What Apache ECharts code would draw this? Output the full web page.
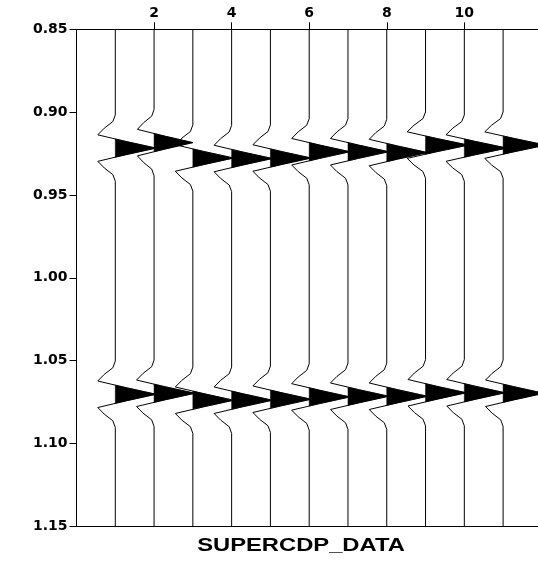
<!DOCTYPE html>
<html><head><meta charset="utf-8">
<script src="https://cdn.jsdelivr.net/npm/echarts@6/dist/echarts.min.js"></script>
<style>html,body{margin:0;padding:0;background:#fff}#c{width:538px;height:562px}</style>
</head><body><div id="c"></div>
<script>
// ---- data ----
const traceNumbers = [1, 2, 3, 4, 5, 6, 7, 8, 9, 10, 11];
const event1Times = [0.9217, 0.9184, 0.9277, 0.9280, 0.9277, 0.9239, 0.9239, 0.9244, 0.9199, 0.9217, 0.9199];
const event2Times = [1.0703, 1.0697, 1.0739, 1.0739, 1.0733, 1.0719, 1.0715, 1.0715, 1.0694, 1.0694, 1.0697];
const event1Amps = [1.05, 1.0, 1.05, 1.05, 1.05, 1.05, 1.05, 1.05, 1.1, 1.1, 1.1];
const event2Amps = [1.05, 1.05, 1.05, 1.05, 1.05, 1.05, 1.05, 1.05, 1.05, 1.05, 1.05];
const waveletOffsets = [-0.020, -0.016, -0.012, -0.008, -0.004, 0, 0.004, 0.008, 0.012, 0.016, 0.020];
const waveletValues = [0, -0.06, -0.27, -0.43, 0.26, 1.0, 0.26, -0.43, -0.27, -0.06, 0];
const xTickLabels = [2, 4, 6, 8, 10];
const yTickLabels = [0.85, 0.90, 0.95, 1.00, 1.05, 1.10, 1.15];
const timeMin = 0.85, timeMax = 1.15;
const xMin = 0, xMax = 11.9;
const axisTitle = 'SUPERCDP_DATA';

// ---- build ----
function eventPoints(base, amp, t0) {
  return waveletOffsets.map((o, i) => [base + amp * waveletValues[i], t0 + o]);
}
function positivePolys(base, amp, t0) {
  const polys = []; let cur = null;
  for (let i = 0; i < waveletValues.length; i++) {
    const v = waveletValues[i], t = t0 + waveletOffsets[i];
    if (v > 0) {
      if (!cur) {
        cur = [];
        if (i > 0) {
          const v0 = waveletValues[i - 1], tp = t0 + waveletOffsets[i - 1];
          cur.push([base, tp + (t - tp) * (v0 / (v0 - v))]);
        } else cur.push([base, t]);
      }
      cur.push([base + amp * v, t]);
    } else if (cur) {
      const v0 = waveletValues[i - 1], tp = t0 + waveletOffsets[i - 1];
      cur.push([base, tp + (t - tp) * (v0 / (v0 - v))]);
      polys.push(cur); cur = null;
    }
  }
  if (cur) { cur.push([base, cur[cur.length - 1][1]]); polys.push(cur); }
  return polys;
}

const lineSeries = traceNumbers.map((k, i) => ({
  type: 'line',
  xAxisIndex: 0,
  data: [[k, timeMin]]
    .concat(eventPoints(k, event1Amps[i], event1Times[i]))
    .concat(eventPoints(k, event2Amps[i], event2Times[i]))
    .concat([[k, timeMax]]),
  showSymbol: false,
  symbol: 'none',
  lineStyle: { color: '#000', width: 1 },
  silent: true,
  animation: false,
  z: 2
}));

const fillSeries = {
  type: 'custom',
  xAxisIndex: 0,
  data: traceNumbers.map((k, i) => [k, event1Times[i], i]),
  clip: true,
  animation: false,
  silent: true,
  z: 3,
  renderItem: function (params, api) {
    const i = api.value(2);
    const k = traceNumbers[i];
    const polys = positivePolys(k, event1Amps[i], event1Times[i])
      .concat(positivePolys(k, event2Amps[i], event2Times[i]));
    return {
      type: 'group',
      children: polys.map(p => ({
        type: 'polygon',
        shape: { points: p.map(pt => api.coord(pt)) },
        style: { fill: '#000', stroke: '#000', lineWidth: 0.5 }
      }))
    };
  }
};

const labelFont = { color: '#000', fontFamily: 'DejaVu Sans', fontWeight: 'bold', fontSize: 14 };

const chart = echarts.init(document.getElementById('c'), null, { renderer: 'canvas' });
chart.setOption({
  animation: false,
  backgroundColor: '#fff',
  grid: { left: 76.5, right: 0, top: 29.3, bottom: 35.7, containLabel: false },
  xAxis: [{
    type: 'value', position: 'top', min: xMin, max: xMax,
    axisLine: { show: true, lineStyle: { color: '#000', width: 1 } },
    axisTick: { show: true, inside: false, length: 7, customValues: xTickLabels, lineStyle: { color: '#000' } },
    axisLabel: Object.assign({ show: true, margin: 9, customValues: xTickLabels, formatter: v => String(v) }, labelFont),
    splitLine: { show: false }
  }, {
    type: 'value', position: 'bottom', min: xMin, max: xMax,
    axisLine: { show: true, onZero: false, lineStyle: { color: '#000', width: 1 } },
    axisTick: { show: false }, axisLabel: { show: false }, splitLine: { show: false }
  }],
  yAxis: {
    type: 'value', inverse: true, min: timeMin, max: timeMax, interval: 0.05,
    axisLine: { show: true, onZero: false, lineStyle: { color: '#000', width: 1 } },
    axisTick: { show: true, length: 7, customValues: yTickLabels, lineStyle: { color: '#000' } },
    axisLabel: Object.assign({ margin: 9, customValues: yTickLabels, formatter: v => Number(v).toFixed(2) }, labelFont),
    splitLine: { show: false }
  },
  graphic: [{
    type: 'text', x: 301, y: 545.5, scaleX: 1.25,
    style: { text: axisTitle, font: 'bold 19px "Liberation Sans"', fill: '#000', textAlign: 'center', textVerticalAlign: 'middle' }
  }],
  series: lineSeries.concat([fillSeries])
});
</script>
</body></html>
